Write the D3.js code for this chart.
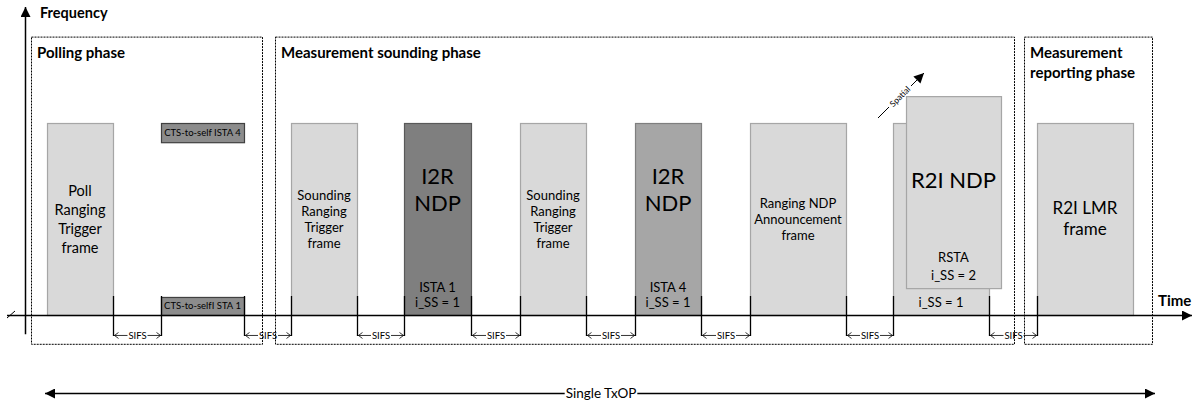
<!DOCTYPE html>
<html>
<head>
<meta charset="utf-8">
<script src="https://cdn.jsdelivr.net/npm/d3@7"></script>
<style>
  body { margin: 0; background: #fff; }
  text { font-family: Lato, "Open Sans", sans-serif; fill: #000; }
  .title { font-weight: bold; font-size: 15px; }
</style>
</head>
<body>
<div id="chart"></div>
<script>

// frames along the time axis (start / end) and frequency axis (low / high)
var frameStart = [47, 161, 161, 291, 404, 520, 635, 750, 893, 906, 1037];
var frameEnd   = [113, 244, 244, 357, 471, 586, 701, 846, 989, 1001, 1133];
var frameLow   = [0, 0, 0.9, 0, 0, 0, 0, 0, 0, 0.14, 0];
var frameHigh  = [1, 0.094, 1, 1, 1, 1, 1, 1, 1, 1.14, 1];
var frameKind  = ['poll', 'cts', 'cts', 'sound', 'ndp1', 'sound', 'ndp4', 'ann', 'r2iBack', 'r2iFront', 'lmr'];
var frameLines = [
  ['Poll', 'Ranging', 'Trigger', 'frame'],
  ['CTS-to-selfI STA 1'],
  ['CTS-to-self ISTA 4'],
  ['Sounding', 'Ranging', 'Trigger', 'frame'],
  ['I2R', 'NDP'],
  ['Sounding', 'Ranging', 'Trigger', 'frame'],
  ['I2R', 'NDP'],
  ['Ranging NDP', 'Announcement', 'frame'],
  [],
  ['R2I NDP'],
  ['R2I LMR', 'frame']
];
var frameSub = [[], [], [], [], ['ISTA 1', 'i_SS = 1'], [], ['ISTA 4', 'i_SS = 1'], [], ['i_SS = 1'], ['RSTA', 'i_SS = 2'], []];

// SIFS gaps: [frame before, frame after]
var sifsPairs = [[0, 1], [1, 3], [3, 4], [4, 5], [5, 6], [6, 7], [7, 8], [8, 10]];

// phases (dashed boxes)
var phaseLines = [['Polling phase'], ['Measurement sounding phase'], ['Measurement', 'reporting phase']];
var phaseStart = [31, 275, 1024];
var phaseEnd   = [262, 1014, 1152];

var width = 1199,
    height = 405;

var x = d3.scaleLinear().domain([0, 1199]).range([0, 1199]);
var y = d3.scaleLinear().domain([0, 1]).range([315, 123]);

var style = {
  poll:     { fill: '#d9d9d9', stroke: '#a6a6a6', size: 14.5, gap: 19, at: 0.5 },
  cts:      { fill: '#8c8c8c', stroke: '#404040', size: 9.5, gap: 12, at: 0.5 },
  sound:    { fill: '#d9d9d9', stroke: '#a6a6a6', size: 13, gap: 16, at: 0.5 },
  ndp1:     { fill: '#7f7f7f', stroke: '#595959', size: 22, gap: 27, at: 0.35 },
  ndp4:     { fill: '#a6a6a6', stroke: '#7f7f7f', size: 22, gap: 27, at: 0.35 },
  ann:      { fill: '#d9d9d9', stroke: '#a6a6a6', size: 13, gap: 16, at: 0.5 },
  r2iBack:  { fill: '#d9d9d9', stroke: '#a6a6a6', size: 22, gap: 27, at: 0.5 },
  r2iFront: { fill: '#d9d9d9', stroke: '#a6a6a6', size: 22, gap: 27, at: 0.44 },
  lmr:      { fill: '#d9d9d9', stroke: '#a6a6a6', size: 17, gap: 21, at: 0.5 }
};

var svg = d3.select('#chart')
  .append('svg')
    .attr('width', width)
    .attr('height', height);

var defs = svg.append('defs');
defs.append('marker')
    .attr('id', 'head')
    .attr('viewBox', '0 0 10 10')
    .attr('refX', 10).attr('refY', 5)
    .attr('markerWidth', 10).attr('markerHeight', 10)
    .attr('markerUnits', 'userSpaceOnUse')
    .attr('orient', 'auto-start-reverse')
  .append('path')
    .attr('d', 'M0,0L10,5L0,10Z')
    .style('fill', '#000');

var frames = frameStart.map(function(d, i) {
  return { x0: d, x1: frameEnd[i], lo: frameLow[i], hi: frameHigh[i], kind: frameKind[i], lines: frameLines[i], sub: frameSub[i] };
});

// phase boxes
var phases = phaseStart.map(function(d, i) { return { x0: d, x1: phaseEnd[i], lines: phaseLines[i] }; });

svg.selectAll('.phase')
  .data(phases)
  .enter()
  .append('rect')
  .attr('class', 'phase')
  .attr('x', function(d) { return x(d.x0) + 0.5; })
  .attr('y', y(1.45) + 0.5)
  .attr('width', function(d) { return x(d.x1) - x(d.x0); })
  .attr('height', y(-0.15) - y(1.45))
  .style('fill', 'none')
  .style('stroke', '#000')
  .style('stroke-width', 1)
  .style('stroke-dasharray', '2,1');

phases.forEach(function(p) {
  p.lines.forEach(function(l, j) {
    svg.append('text')
      .attr('class', 'title')
      .attr('x', x(p.x0) + 6)
      .attr('y', y(1.45) + 21 + j * 20)
      .text(l);
  });
});

// frames
svg.selectAll('.frame')
  .data(frames)
  .enter()
  .append('rect')
  .attr('class', 'frame')
  .attr('x', function(d) { return x(d.x0) + 0.5; })
  .attr('y', function(d) { return y(d.hi) + 0.5; })
  .attr('width', function(d) { return x(d.x1) - x(d.x0); })
  .attr('height', function(d) { return y(d.lo) - y(d.hi); })
  .style('fill', function(d) { return style[d.kind].fill; })
  .style('stroke', function(d) { return style[d.kind].stroke; })
  .style('stroke-width', 1.2);

frames.forEach(function(f) {
  var s = style[f.kind];
  var cx = (x(f.x0) + x(f.x1)) / 2;
  var mid = y(f.hi) + (y(f.lo) - y(f.hi)) * s.at;
  var n = f.lines.length;
  f.lines.forEach(function(l, j) {
    svg.append('text')
      .attr('x', cx)
      .attr('y', mid + (j - (n - 1) / 2) * s.gap)
      .attr('dy', '0.35em')
      .attr('text-anchor', 'middle')
      .style('font-size', s.size + 'px')
      .text(l);
  });
  var m = f.sub.length;
  var subGap = f.kind === 'r2iFront' ? 18 : 15;
  f.sub.forEach(function(l, j) {
    svg.append('text')
      .attr('x', cx)
      .attr('y', y(f.lo) - 13 - (m - 1 - j) * subGap)
      .attr('dy', '0.35em')
      .attr('text-anchor', 'middle')
      .style('font-size', '13px')
      .text(l);
  });
});

// time axis
svg.append('line')
  .attr('x1', 7).attr('x2', 1192)
  .attr('y1', y(0) + 0.5).attr('y2', y(0) + 0.5)
  .attr('marker-end', 'url(#head)')
  .style('stroke', '#000').style('stroke-width', 1.5);
svg.append('line')
  .attr('x1', 7).attr('y1', y(0) + 3)
  .attr('x2', 15).attr('y2', y(0) - 4)
  .style('stroke', '#000').style('stroke-width', 1);
svg.append('text')
  .attr('class', 'title')
  .attr('x', 1158).attr('y', 306)
  .style('font-size', '15px')
  .text('Time');

// frequency axis
svg.append('line')
  .attr('x1', 25.5).attr('x2', 25.5)
  .attr('y1', y(-0.1)).attr('y2', 7)
  .attr('marker-end', 'url(#head)')
  .style('stroke', '#000').style('stroke-width', 1.5);
svg.append('text')
  .attr('class', 'title')
  .attr('x', 40).attr('y', 18)
  .style('font-size', '14.5px')
  .text('Frequency');

// SIFS gaps
var sifsY = y(-0.104) + 0.5;
sifsPairs.forEach(function(p) {
  var a = x(frameEnd[p[0]]) + 0.5, b = x(frameStart[p[1]]) + 0.5;
  [a, b].forEach(function(t) {
    svg.append('line')
      .attr('x1', t).attr('x2', t)
      .attr('y1', y(0.099)).attr('y2', sifsY + 0.5)
      .style('stroke', '#000').style('stroke-width', 1.3);
  });
  var c = (a + b) / 2;
  var g = svg.append('g');
  g.append('path')
    .attr('d', 'M' + a + ',' + sifsY + 'H' + (c - 10) + 'M' + (c + 10) + ',' + sifsY + 'H' + b +
               'M' + (a + 5) + ',' + (sifsY - 3) + 'L' + (a + 1) + ',' + sifsY + 'L' + (a + 5) + ',' + (sifsY + 3) +
               'M' + (b - 5) + ',' + (sifsY - 3) + 'L' + (b - 1) + ',' + sifsY + 'L' + (b - 5) + ',' + (sifsY + 3))
    .style('fill', 'none').style('stroke', '#000').style('stroke-width', 0.8);
  g.append('text')
    .attr('x', c).attr('y', sifsY)
    .attr('dy', '0.35em')
    .attr('text-anchor', 'middle')
    .style('font-size', '9.5px')
    .text('SIFS');
});

// spatial arrow, line broken around its label
svg.append('line')
  .attr('x1', 878).attr('y1', 118)
  .attr('x2', 889).attr('y2', 107)
  .style('stroke', '#000').style('stroke-width', 1);
svg.append('line')
  .attr('x1', 911).attr('y1', 86)
  .attr('x2', 924).attr('y2', 73)
  .attr('marker-end', 'url(#head)')
  .style('stroke', '#000').style('stroke-width', 1);
svg.append('text')
  .attr('transform', 'translate(900,96.5) rotate(-45)')
  .attr('dy', '0.35em')
  .attr('text-anchor', 'middle')
  .style('font-size', '8.5px')
  .text('Spatial');

// single TxOP, line broken around its label
var txY = 393.5;
var tx = svg.append('text')
  .attr('x', 601).attr('y', txY)
  .attr('dy', '0.35em')
  .attr('text-anchor', 'middle')
  .style('font-size', '13.5px')
  .text('Single TxOP');
var half = tx.node().getComputedTextLength() / 2;
svg.append('line')
  .attr('x1', 601 - half - 1).attr('x2', 45)
  .attr('y1', txY).attr('y2', txY)
  .attr('marker-end', 'url(#head)')
  .style('stroke', '#000').style('stroke-width', 1.5);
svg.append('line')
  .attr('x1', 601 + half + 1).attr('x2', 1155)
  .attr('y1', txY).attr('y2', txY)
  .attr('marker-end', 'url(#head)')
  .style('stroke', '#000').style('stroke-width', 1.5);

</script>
</body>
</html>
